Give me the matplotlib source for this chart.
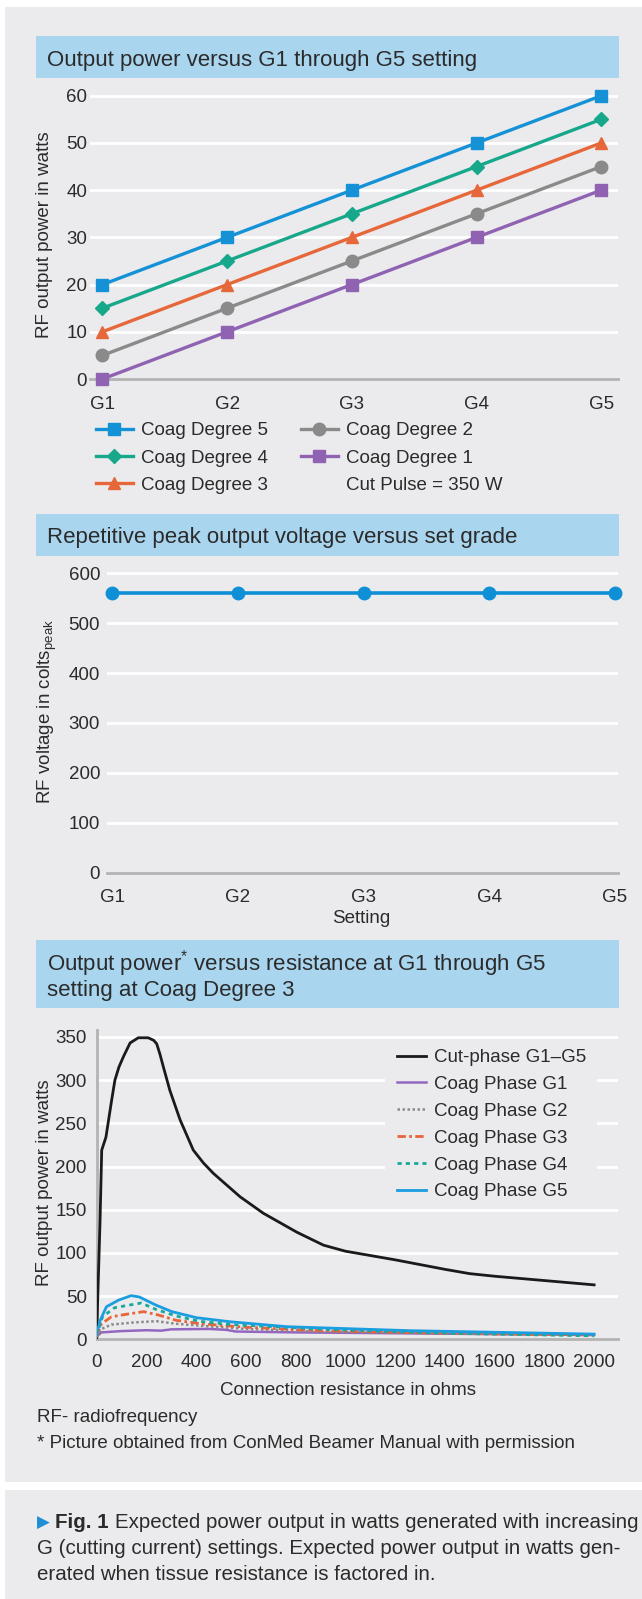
import numpy as np
import matplotlib
matplotlib.use('Agg')
import matplotlib.pyplot as plt
from matplotlib.patches import Rectangle
from matplotlib.lines import Line2D

plt.rcParams['font.family'] = ['Liberation Sans', 'DejaVu Sans']
plt.rcParams['mathtext.fontset'] = 'custom'
plt.rcParams['mathtext.rm'] = 'Liberation Sans'
plt.rcParams['mathtext.it'] = 'Liberation Sans:italic'

# ---- chart 1: output power vs setting
settings = ['G1', 'G2', 'G3', 'G4', 'G5']
coag_5 = [20, 30, 40, 50, 60]
coag_4 = [15, 25, 35, 45, 55]
coag_3 = [10, 20, 30, 40, 50]
coag_2 = [5, 15, 25, 35, 45]
coag_1 = [0, 10, 20, 30, 40]

# ---- chart 2: peak voltage vs setting
peak_voltage = [560, 560, 560, 560, 560]

# ---- chart 3: power vs resistance
cut_r = [0, 14, 21, 38, 61, 74, 90, 108, 135, 168, 208, 230, 242, 255, 269, 295,
         336, 389, 430, 470, 577, 670, 805, 912, 1000, 1200, 1400, 1500, 1600, 1800, 2000]
cut_p = [0, 134, 219, 234, 277, 300, 315, 327, 343, 349, 349, 346, 342, 330, 315, 288,
         254, 219, 204, 192, 165, 146, 124, 109, 102, 92, 81, 76, 73, 68, 63]
g1_r = [0, 20, 100, 200, 260, 300, 450, 520, 560, 800, 1400, 2000]
g1_p = [3, 8, 9.5, 10.5, 10, 11.5, 12, 11, 9, 8, 6.5, 5]
g2_r = [0, 20, 60, 150, 240, 320, 450, 600, 900, 1400, 2000]
g2_p = [3, 12, 17, 19.5, 21, 18, 15, 12, 9, 7, 5]
g3_r = [0, 20, 60, 120, 190, 250, 320, 420, 600, 900, 1400, 2000]
g3_p = [3, 18, 26, 29, 32, 28, 22, 18, 14, 10, 7, 5]
g4_r = [0, 24, 73, 155, 180, 238, 320, 410, 540, 929, 1400, 2000]
g4_p = [4, 26, 36.6, 40.8, 42, 34.7, 27, 21, 17, 11.5, 7, 4]
g5_r = [0, 15, 40, 90, 139, 172, 238, 303, 402, 534, 764, 1258, 2000]
g5_p = [5, 22, 37.7, 45.5, 50.5, 49, 39.7, 32, 25, 20.4, 14.6, 10, 6]

W, H, DPI = 642, 1599, 100
PANEL = '#ebebed'
BAR = '#a9d5ef'
TXT = '#2b2b2b'
AXGREY = '#b3b3b3'

fig = plt.figure(figsize=(W / DPI, H / DPI), dpi=DPI)
fig.patch.set_facecolor('white')


def fbox(x0, y0, x1, y1):
    return [x0 / W, 1 - y1 / H, (x1 - x0) / W, (y1 - y0) / H]


def rect(x0, y0, x1, y1, color):
    fig.add_artist(Rectangle((x0 / W, 1 - y1 / H), (x1 - x0) / W, (y1 - y0) / H,
                             transform=fig.transFigure, facecolor=color,
                             edgecolor='none', zorder=-10))


def ftext(x, y, s, **kw):
    kw.setdefault('color', TXT)
    return fig.text(x / W, 1 - y / H, s, **kw)


def style_axes(ax, xpad, ypad):
    ax.set_facecolor('none')
    ax.grid(axis='y', color='white', lw=2)
    ax.grid(axis='x', visible=False)
    ax.set_axisbelow(True)
    for s in ['top', 'right', 'left']:
        ax.spines[s].set_visible(False)
    ax.spines['bottom'].set_color(AXGREY)
    ax.spines['bottom'].set_linewidth(2)
    ax.tick_params(length=0, labelsize=13.5, labelcolor=TXT)
    ax.tick_params(axis='x', pad=xpad)
    ax.tick_params(axis='y', pad=ypad)


# backgrounds
rect(5, 7, 642, 1482, PANEL)
rect(5, 1490, 642, 1599, PANEL)
rect(36, 36, 619, 78, BAR)
rect(36, 514, 619, 556, BAR)
rect(36, 940, 619, 1008, BAR)

ftext(47, 66, 'Output power versus G1 through G5 setting', fontsize=16)
ftext(47, 543, 'Repetitive peak output voltage versus set grade', fontsize=16)
ftext(47, 970, r'Output $\mathrm{power}^{*}$ versus resistance at G1 through G5', fontsize=16)
ftext(47, 996, 'setting at Coag Degree 3', fontsize=16)

# ---- chart 1
ax1 = fig.add_axes(fbox(90, 91, 617.5, 379))
style_axes(ax1, 12, 2)
x = np.arange(len(settings))
series1 = [
    (coag_5, 'Coag Degree 5', '#1592d6', 's', 8),
    (coag_4, 'Coag Degree 4', '#17a88c', 'D', 7.5),
    (coag_3, 'Coag Degree 3', '#e6683a', '^', 9),
    (coag_2, 'Coag Degree 2', '#8a8a8a', 'o', 9),
    (coag_1, 'Coag Degree 1', '#8f62b2', 's', 9),
]
for y, lab, c, m, ms in series1:
    ax1.plot(x, y, color=c, lw=2.4, marker=m, ms=ms, label=lab, clip_on=False, zorder=3)
ax1.set_xlim(-0.1, 4.13)
ax1.set_ylim(0, 61)
ax1.set_yticks(range(0, 61, 10))
ax1.set_xticks(x)
ax1.set_xticklabels(settings)
ftext(45, 235, 'RF output power in watts', fontsize=13.5, rotation=90, ha='center', va='center')

handles, labels = ax1.get_legend_handles_labels()
leg_kw = dict(loc='upper left', bbox_transform=fig.transFigure, frameon=False,
              borderpad=0, borderaxespad=0, handlelength=1.97, handletextpad=0.43,
              labelspacing=0.55, fontsize=13.5, labelcolor=TXT)
legA = ax1.legend(handles[:3], labels[:3], bbox_to_anchor=(96 / W, 1 - 422 / H), **leg_kw)
ax1.add_artist(legA)
dummy = Line2D([], [], color='none')
ax1.legend(handles[3:] + [dummy], labels[3:] + ['Cut Pulse = 350 W'],
           bbox_to_anchor=(301 / W, 1 - 422 / H), **leg_kw)

# ---- chart 2
ax2 = fig.add_axes(fbox(107, 568.3, 617.5, 872.7))
style_axes(ax2, 11.5, 5)
ax2.plot(x, peak_voltage, color='#0f90d6', lw=2.6, marker='o', ms=9, clip_on=False, zorder=3)
ax2.set_xlim(-0.04, 4.02)
ax2.set_ylim(0, 610)
ax2.set_yticks(range(0, 601, 100))
ax2.set_xticks(x)
ax2.set_xticklabels(settings)
ftext(47, 712, r'RF voltage in $\mathrm{colts}_{\mathrm{peak}}$', fontsize=13.5,
      rotation=90, ha='center', va='center')
ftext(361, 923, 'Setting', fontsize=13.5, ha='center')

# ---- chart 3
ax3 = fig.add_axes(fbox(96.5, 1030, 617.5, 1339.3))
style_axes(ax3, 10.8, 7)
ax3.spines['left'].set_visible(True)
ax3.spines['left'].set_color(AXGREY)
ax3.spines['left'].set_linewidth(2)
ax3.plot(cut_r, cut_p, color='#1a1a1a', lw=2, label='Cut-phase G1\u2013G5', zorder=3)
ax3.plot(g1_r, g1_p, color='#9466c0', lw=1.8, label='Coag Phase G1', zorder=3)
ax3.plot(g2_r, g2_p, color='#8a8a8a', lw=1.8, ls=(0, (1, 1)), label='Coag Phase G2', zorder=3)
ax3.plot(g3_r, g3_p, color='#e8643a', lw=2, ls=(0, (3, 1.2, 1, 1.2)), label='Coag Phase G3', zorder=3)
ax3.plot(g4_r, g4_p, color='#17a99a', lw=2, ls=(0, (1.5, 1.5)), label='Coag Phase G4', zorder=3)
ax3.plot(g5_r, g5_p, color='#1a9ee0', lw=2, label='Coag Phase G5', zorder=3)
ax3.set_xlim(0, 2094)
ax3.set_ylim(0, 358)
ax3.set_xticks(range(0, 2001, 200))
ax3.set_yticks(range(0, 351, 50))
ax3.add_patch(Rectangle((385 / W, 1 - 1205 / H), (597 - 385) / W, (1205 - 1041) / H,
                        transform=fig.transFigure, facecolor=PANEL, edgecolor='none', zorder=1))
ax3.legend(loc='upper left', bbox_to_anchor=(397 / W, 1 - 1049 / H), bbox_transform=fig.transFigure,
           frameon=False, borderpad=0, borderaxespad=0, handlelength=1.55, handletextpad=0.43,
           labelspacing=0.52, fontsize=13.5, labelcolor=TXT)
ftext(45, 1183, 'RF output power in watts', fontsize=13.5, rotation=90, ha='center', va='center')
ftext(348, 1395, 'Connection resistance in ohms', fontsize=13.5, ha='center')

# footnotes
ftext(37, 1422, 'RF- radiofrequency', fontsize=13.5)
ftext(37, 1448, '* Picture obtained from ConMed Beamer Manual with permission', fontsize=13.5)

# caption
ftext(37, 1527.5, '\u25b6', fontsize=12, color='#1e8fd5', family=['DejaVu Sans'])
ftext(55, 1527.5, 'Fig. 1', fontsize=14.8, fontweight='bold')
ftext(115, 1527.5, 'Expected power output in watts generated with increasing', fontsize=14.8)
ftext(37, 1554, 'G (cutting current) settings. Expected power output in watts gen-', fontsize=14.8)
ftext(37, 1580, 'erated when tissue resistance is factored in.', fontsize=14.8)

fig.savefig('out.png', dpi=DPI)
